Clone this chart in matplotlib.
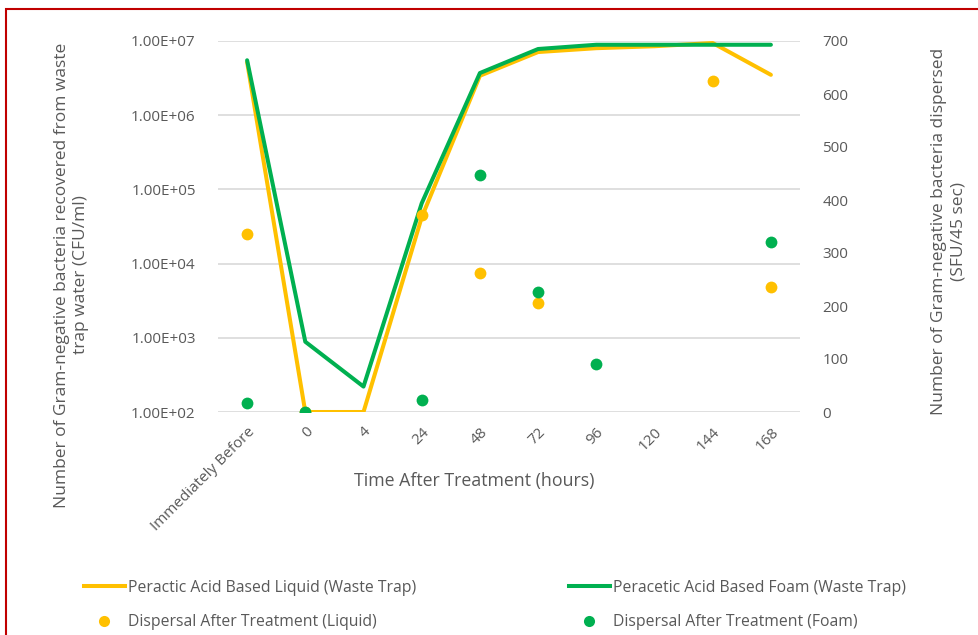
import numpy as np
import matplotlib.pyplot as plt
from matplotlib.patches import Rectangle
from matplotlib.lines import Line2D

plt.rcParams['font.family'] = ['Open Sans', 'DejaVu Sans']

# time points (category axis)
tiempos = ['Immediately Before', '0', '4', '24', '48', '72', '96', '120', '144', '168']

# waste trap counts, CFU/ml (left, log axis)
liquido_trampa = [5.2e6, 1e2, 1e2, 4.2e4, 3.4e6, 7.1e6, 8.0e6, 8.5e6, 9.4e6, 3.5e6]
espuma_trampa = [5.5e6, 885, 220, 6.5e4, 3.7e6, 7.8e6, 8.9e6, 8.9e6, 8.9e6, 8.9e6]

# dispersal after treatment, SFU/45 sec (right axis); nan = no point
liquido_disp = [336, 0, np.nan, 372, 262, 206, np.nan, np.nan, 624, 236]
espuma_disp = [17, 0, np.nan, 22, 447, 226, 91, np.nan, np.nan, 320]

amarillo = '#FFC000'
verde = '#00B050'
gris = '#595959'

W, H = 979, 635
fig = plt.figure(figsize=(W/100, H/100), dpi=100)

# red frame around the chart
fig.patches.append(Rectangle((6.5/W, -0.2), 1.2, 1 - 8.5/H + 0.2, transform=fig.transFigure,
                             fill=False, edgecolor='#C00000', linewidth=1.5))

ax1 = fig.add_axes([218/W, 1 - 412/H, 582/W, 371/H])
x = np.arange(len(tiempos))
ax1.plot(x, liquido_trampa, color=amarillo, lw=2.9, solid_capstyle='round', zorder=3)
ax1.plot(x, espuma_trampa, color=verde, lw=2.9, solid_capstyle='round', zorder=4)
ax1.set_yscale('log')
ax1.set_ylim(1e2, 1e7)
ax1.set_xlim(-0.5, len(tiempos) - 0.5)
ax1.set_yticks([1e2, 1e3, 1e4, 1e5, 1e6, 1e7])
ax1.set_yticklabels(['1.00E+02', '1.00E+03', '1.00E+04', '1.00E+05', '1.00E+06', '1.00E+07'])
ax1.yaxis.set_minor_locator(plt.NullLocator())
ax1.grid(True, axis='y', color='#D9D9D9', lw=1.2)
ax1.set_axisbelow(True)
ax1.set_xticks(x)
ax1.set_xticklabels(tiempos, rotation=45, ha='right', rotation_mode='anchor')
ax1.tick_params(axis='both', length=0, colors=gris, labelsize=11)
ax1.tick_params(axis='y', pad=16)
ax1.tick_params(axis='x', pad=9)
for s in ax1.spines.values():
    s.set_visible(False)

ax2 = ax1.twinx()
ax2.plot(x, liquido_disp, 'o', color=amarillo, ms=8.5, mec='none', zorder=5)
ax2.plot(x, espuma_disp, 'o', color=verde, ms=8.5, mec='none', zorder=6)
ax2.set_ylim(0, 700)
ax2.set_yticks(range(0, 701, 100))
ax2.tick_params(axis='y', length=0, colors=gris, labelsize=11, pad=16)
for s in ax2.spines.values():
    s.set_visible(False)

fig.text(72/W, 1 - 275/H, 'Number of Gram-negative bacteria recovered from waste\ntrap water (CFU/ml)',
         rotation=90, ha='center', va='center', color=gris, fontsize=12.5, linespacing=1.25)
fig.text(949/W, 1 - 231/H, 'Number of Gram-negative bacteria dispersed\n(SFU/45 sec)',
         rotation=90, ha='center', va='center', color=gris, fontsize=12.5, linespacing=1.25)
fig.text(474/W, 1 - 481/H, 'Time After Treatment (hours)', ha='center', va='center',
         color=gris, fontsize=12.8)

# legend: liquid series in the left column, foam in the right
columnas = [
    (84, [Line2D([], [], color=amarillo, lw=2.9),
          Line2D([], [], ls='none', marker='o', color=amarillo, ms=8, mec='none')],
     ['Peractic Acid Based Liquid (Waste Trap)', 'Dispersal After Treatment (Liquid)']),
    (569, [Line2D([], [], color=verde, lw=2.9),
           Line2D([], [], ls='none', marker='o', color=verde, ms=8, mec='none')],
     ['Peracetic Acid Based Foam (Waste Trap)', 'Dispersal After Treatment (Foam)']),
]
for x0, hs, ls in columnas:
    leg = fig.legend(hs, ls, loc='center left', bbox_to_anchor=(x0/W, 1 - 605/H),
                     frameon=False, fontsize=11.3, handlelength=2.6, handletextpad=0.2,
                     labelspacing=1.15, borderpad=0, borderaxespad=0)
    for t in leg.get_texts():
        t.set_color(gris)

fig.savefig('out.png', dpi=100)
